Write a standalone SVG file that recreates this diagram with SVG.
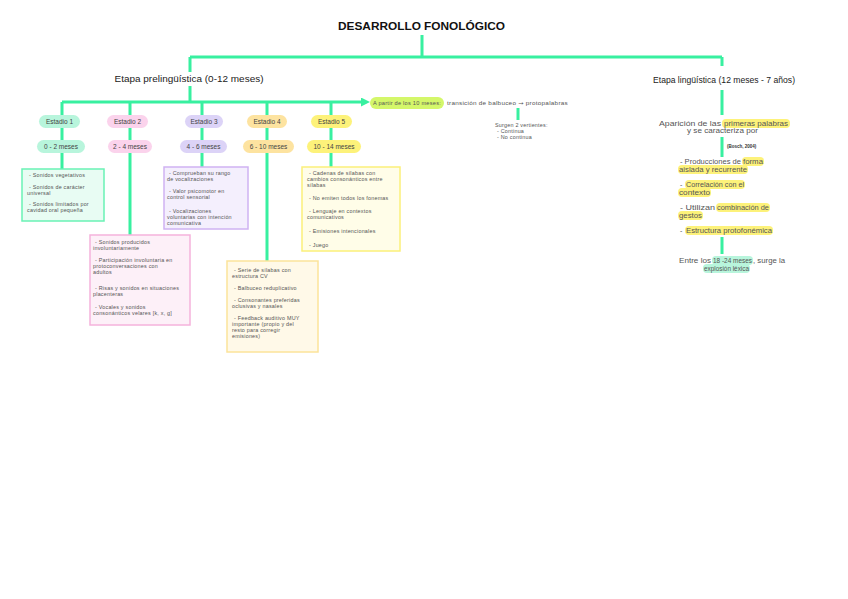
<svg xmlns="http://www.w3.org/2000/svg" width="848" height="599" viewBox="0 0 848 599">
<defs>
<style>
text{font-family:"Liberation Sans",Arial,sans-serif;fill:#444}
.t{font-weight:bold;fill:#111;font-size:11px}
.h{font-size:9px;fill:#222}
.p{font-size:6.5px;fill:#444}
.b{font-size:5.4px;fill:#555;letter-spacing:0.22px}
.r{font-size:7px;fill:#555}
.c{stroke:#38f0a0;stroke-width:3;fill:none}
</style>
<marker id="ah" markerWidth="9" markerHeight="9" refX="2" refY="4.5" orient="auto" markerUnits="userSpaceOnUse">
<path d="M0,0 L9,4.5 L0,9 Z" fill="#38f0a0"/>
</marker>
</defs>
<rect width="848" height="599" fill="#fff"/>
<g id="connectors">
<path class="c" d="M422,35 V57 M190,57 H722 M190,57 V72 M722,57 V66"/>
<path class="c" d="M190,86 V102 M62,102 V115 M130,102 V115 M202,102 V115 M267,102 V115 M331,102 V115"/>
<path class="c" d="M62,102 H363" marker-end="url(#ah)"/>
<path class="c" d="M62,128 V140 M130,128 V140 M202,128 V140 M267,128 V140 M331,128 V140"/>
<path class="c" d="M62,153 V169 M130,153 V235 M202,153 V167 M267,153 V261 M331,153 V167"/>
<path class="c" d="M518,108 V120"/>
<path class="c" d="M722,90 V115 M722,137 V157 M722,237 V254"/>
</g>
<g id="title"><text class="t" x="421.5" y="30" text-anchor="middle" textLength="167" lengthAdjust="spacingAndGlyphs">DESARROLLO FONOLÓGICO</text></g>
<g id="etapa-pre"><text class="h" x="189" y="82" text-anchor="middle" textLength="149" lengthAdjust="spacingAndGlyphs">Etapa prelingüística (0-12 meses)</text></g>
<g id="etapa-ling"><text class="h" x="724" y="83" text-anchor="middle" textLength="142" lengthAdjust="spacingAndGlyphs">Etapa lingüística (12 meses - 7 años)</text></g>

<g id="estadio1">
<rect x="39" y="115" width="41" height="13" rx="6.5" fill="#b8f5dc"/>
<text class="p" x="59.5" y="124" text-anchor="middle">Estadio 1</text>
<rect x="37" y="140" width="48" height="13" rx="6.5" fill="#b8f5dc"/>
<text class="p" x="61" y="149" text-anchor="middle">0 - 2 meses</text>
</g>
<g id="estadio2">
<rect x="107" y="115" width="41" height="13" rx="6.5" fill="#fbd3ec"/>
<text class="p" x="127.5" y="124" text-anchor="middle">Estadio 2</text>
<rect x="108" y="140" width="44" height="13" rx="6.5" fill="#fbd3ec"/>
<text class="p" x="130" y="149" text-anchor="middle">2 - 4 meses</text>
</g>
<g id="estadio3">
<rect x="185" y="115" width="38" height="13" rx="6.5" fill="#dcd3f7"/>
<text class="p" x="204" y="124" text-anchor="middle">Estadio 3</text>
<rect x="180" y="140" width="47" height="13" rx="6.5" fill="#dcd3f7"/>
<text class="p" x="203.5" y="149" text-anchor="middle">4 - 6 meses</text>
</g>
<g id="estadio4">
<rect x="247" y="115" width="40" height="13" rx="6.5" fill="#fde3a0"/>
<text class="p" x="267" y="124" text-anchor="middle">Estadio 4</text>
<rect x="243" y="140" width="51" height="13" rx="6.5" fill="#fde3a0"/>
<text class="p" x="268.5" y="149" text-anchor="middle">6 - 10 meses</text>
</g>
<g id="estadio5">
<rect x="311" y="115" width="41" height="13" rx="6.5" fill="#fdf27a"/>
<text class="p" x="331.5" y="124" text-anchor="middle">Estadio 5</text>
<rect x="307" y="140" width="54" height="13" rx="6.5" fill="#fdf27a"/>
<text class="p" x="334" y="149" text-anchor="middle">10 - 14 meses</text>
</g>

<g id="box1">
<rect x="22" y="169" width="82" height="52" fill="#e8fcf3" stroke="#6af2b5" stroke-width="1.5"/>
<text class="b" x="29" y="177">- Sonidos vegetativos</text>
<text class="b" x="29" y="189">- Sonidos de carácter</text>
<text class="b" x="27" y="195">universal</text>
<text class="b" x="29" y="206">- Sonidos limitados por</text>
<text class="b" x="27" y="212">cavidad oral pequeña</text>
</g>
<g id="box2">
<rect x="90" y="235" width="100" height="90" fill="#fdf0f8" stroke="#f5b3dc" stroke-width="1.5"/>
<text class="b" x="95" y="244">- Sonidos producidos</text>
<text class="b" x="93" y="250">involuntariamente</text>
<text class="b" x="95" y="262">- Participación involuntaria en</text>
<text class="b" x="93" y="268">protoconversaciones con</text>
<text class="b" x="93" y="274">adultos</text>
<text class="b" x="95" y="290">- Risas y sonidos en situaciones</text>
<text class="b" x="93" y="296">placenteras</text>
<text class="b" x="95" y="309">- Vocales y sonidos</text>
<text class="b" x="93" y="315">consonánticos velares [k, x, g]</text>
</g>
<g id="box3">
<rect x="164" y="167" width="84" height="62" fill="#f4effd" stroke="#cfb3f2" stroke-width="1.5"/>
<text class="b" x="169" y="175">- Comprueban su rango</text>
<text class="b" x="167" y="181">de vocalizaciones</text>
<text class="b" x="169" y="193">- Valor psicomotor en</text>
<text class="b" x="167" y="199">control sensorial</text>
<text class="b" x="169" y="213">- Vocalizaciones</text>
<text class="b" x="167" y="219">voluntarias con intención</text>
<text class="b" x="167" y="225">comunicativa</text>
</g>
<g id="box4">
<rect x="227" y="261" width="91" height="91" fill="#fff9e8" stroke="#fce39a" stroke-width="1.5"/>
<text class="b" x="234" y="272">- Serie de sílabas con</text>
<text class="b" x="232" y="278">estructura CV</text>
<text class="b" x="234" y="290">- Balbuceo reduplicativo</text>
<text class="b" x="234" y="302">- Consonantes preferidas</text>
<text class="b" x="232" y="308">oclusivas y nasales</text>
<text class="b" x="234" y="320">- Feedback auditivo MUY</text>
<text class="b" x="232" y="326">importante (propio y del</text>
<text class="b" x="232" y="332">resto para corregir</text>
<text class="b" x="232" y="338">emisiones)</text>
</g>
<g id="box5">
<rect x="302" y="167" width="98" height="84" fill="#fffde8" stroke="#fbf07a" stroke-width="1.5"/>
<text class="b" x="309" y="175">- Cadenas de sílabas con</text>
<text class="b" x="307" y="181">cambios consonánticos entre</text>
<text class="b" x="307" y="187">sílabas</text>
<text class="b" x="309" y="200">- No emiten todos los fonemas</text>
<text class="b" x="309" y="213">- Lenguaje en contextos</text>
<text class="b" x="307" y="219">comunicativos</text>
<text class="b" x="309" y="233">- Emisiones intencionales</text>
<text class="b" x="309" y="247">- Juego</text>
</g>

<g id="transicion">
<rect x="370" y="97" width="74" height="12" rx="6" fill="#d4f76a"/>
<text class="b" x="407" y="105" text-anchor="middle" textLength="68" lengthAdjust="spacingAndGlyphs">A partir de los 10 meses:</text>
<text class="b" x="447" y="105" textLength="121" lengthAdjust="spacingAndGlyphs">transición de balbuceo <tspan style="font-family:'DejaVu Sans',sans-serif">→</tspan> protopalabras</text>
</g>
<g id="vertientes">
<text class="b" x="495" y="127">Surgen 2 vertientes:</text>
<text class="b" x="497" y="133">- Continua</text>
<text class="b" x="497" y="139">- No continua</text>
</g>

<g id="aparicion">
<rect x="722" y="119" width="68" height="9" rx="4" fill="#fdf27a"/>
<text class="r" x="659" y="126" textLength="62" lengthAdjust="spacingAndGlyphs">Aparición de las</text>
<text class="r" x="724" y="126" textLength="64" lengthAdjust="spacingAndGlyphs">primeras palabras</text>
<text class="r" x="687" y="133" textLength="71" lengthAdjust="spacingAndGlyphs">y se caracteriza por</text>
<text x="727" y="148" style="font-size:4.5px;font-weight:bold;fill:#333">(Bosch, 2004)</text>
</g>
<g id="caracteristicas">
<rect x="742" y="157" width="22" height="9" rx="4" fill="#fdf27a"/>
<rect x="678" y="165" width="70" height="9" rx="4" fill="#fdf27a"/>
<text class="r" x="680" y="164" textLength="61" lengthAdjust="spacingAndGlyphs">- Producciones de</text>
<text class="r" x="743" y="164" textLength="20" lengthAdjust="spacingAndGlyphs">forma</text>
<text class="r" x="679" y="172" textLength="68" lengthAdjust="spacingAndGlyphs">aislada y recurrente</text>

<rect x="685" y="180" width="60" height="9" rx="4" fill="#fdf27a"/>
<rect x="678" y="188" width="33" height="9" rx="4" fill="#fdf27a"/>
<text class="r" x="680" y="187">-</text>
<text class="r" x="686" y="187" textLength="58" lengthAdjust="spacingAndGlyphs">Correlación con el</text>
<text class="r" x="679" y="195" textLength="31" lengthAdjust="spacingAndGlyphs">contexto</text>

<rect x="716" y="203" width="54" height="9" rx="4" fill="#fdf27a"/>
<rect x="678" y="211" width="25" height="9" rx="4" fill="#fdf27a"/>
<text class="r" x="680" y="210" textLength="35" lengthAdjust="spacingAndGlyphs">- Utilizan</text>
<text class="r" x="717" y="210" textLength="52" lengthAdjust="spacingAndGlyphs">combinación de</text>
<text class="r" x="679" y="218" textLength="23" lengthAdjust="spacingAndGlyphs">gestos</text>

<rect x="685" y="226" width="88" height="9" rx="4" fill="#fdf27a"/>
<text class="r" x="680" y="233">-</text>
<text class="r" x="686" y="233" textLength="86" lengthAdjust="spacingAndGlyphs">Estructura protofonémica</text>
</g>
<g id="explosion">
<rect x="712" y="256" width="41" height="9" rx="4" fill="#b8f5dc"/>
<rect x="703" y="264" width="47" height="9" rx="4" fill="#b8f5dc"/>
<text class="r" x="679" y="263" textLength="32" lengthAdjust="spacingAndGlyphs">Entre los</text>
<text class="r" x="713" y="263" textLength="39" lengthAdjust="spacingAndGlyphs">18 -24 meses</text>
<text class="r" x="753" y="263" textLength="32" lengthAdjust="spacingAndGlyphs">, surge la</text>
<text class="r" x="704" y="271" textLength="45" lengthAdjust="spacingAndGlyphs">explosión léxica</text>
</g>
</svg>
